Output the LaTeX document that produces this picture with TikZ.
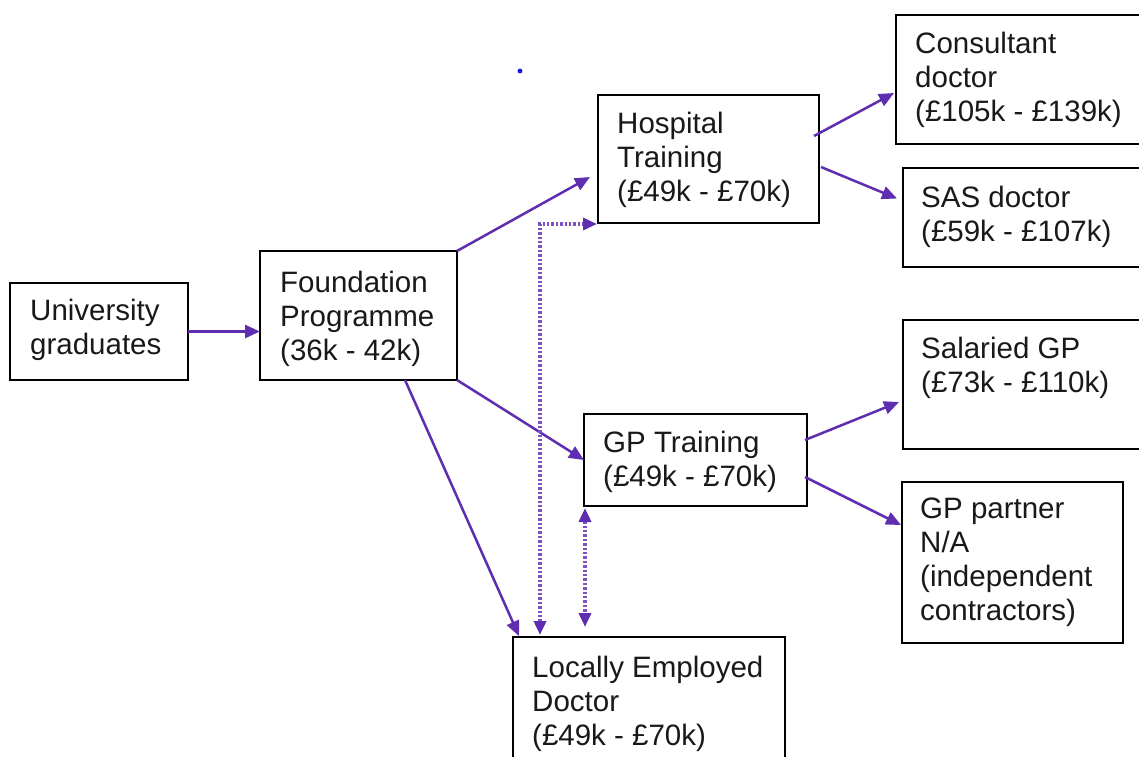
\documentclass[tikz,border=0pt]{standalone}
\usepackage{fontspec}
\setmainfont{Liberation Sans}
\usetikzlibrary{arrows.meta,calc}
\definecolor{arrowpurple}{RGB}{95,45,175}
\definecolor{dotpurple}{RGB}{125,80,200}
\definecolor{textgray}{RGB}{25,25,25}
\definecolor{dotblue}{RGB}{20,20,240}
\tikzset{
  box/.style={draw=black, line width=2.5pt, outer sep=0pt, inner sep=0pt, anchor=north west, fill=white},
  lbl/.style={anchor=north west, inner sep=0pt, align=left, text=textgray,
              font=\fontsize{29.5}{34}\selectfont},
  conn/.style={draw=arrowpurple, line width=2.5pt, -{Triangle[length=15pt,width=13pt]}},
  dotconn/.style={draw=dotpurple, line width=3.5pt, dash pattern=on 2.4pt off 2pt,
                  {Triangle[length=14pt,width=12pt,color=arrowpurple]}-{Triangle[length=14pt,width=12pt,color=arrowpurple]}}
}
\begin{document}
\begin{tikzpicture}[x=1pt,y=-1pt]
\useasboundingbox (0,0) rectangle (1139,756);
\fill[white] (0,0) rectangle (1139,756);
\clip (0,0) rectangle (1139,756);

% boxes
\node[box, minimum width=178pt, minimum height=97pt]  (ug)   at (10,283)  {};
\node[box, minimum width=197pt, minimum height=129pt] (fp)   at (260,251) {};
\node[box, minimum width=221pt, minimum height=128pt] (hosp) at (598,95)  {};
\node[box, minimum width=254pt, minimum height=129pt] (cons) at (896,15)  {};
\node[box, minimum width=247pt, minimum height=99pt]  (sas)  at (903,168) {};
\node[box, minimum width=247pt, minimum height=129pt] (sal)  at (903,320) {};
\node[box, minimum width=221pt, minimum height=161pt] (part) at (902,482) {};
\node[box, minimum width=223pt, minimum height=92pt]  (gpt)  at (584,414) {};
\node[box, minimum width=272pt, minimum height=133pt] (led)  at (513,637) {};

% labels
\node[lbl] (ugl)   at (30,296)  {\strut University\\graduates};
\node[lbl] (fpl)   at (280,268) {\strut Foundation\\Programme\\(36k - 42k)};
\node[lbl] (hospl) at (617,109) {\strut Hospital\\Training\\(£49k - £70k)};
\node[lbl] (consl) at (915,29)  {\strut Consultant\\doctor\\(£105k - £139k)};
\node[lbl] (sasl)  at (921,183) {\strut SAS doctor\\(£59k - £107k)};
\node[lbl] (sall)  at (921,334) {\strut Salaried GP\\(£73k - £110k)};
\node[lbl] (partl) at (920,494) {\strut GP partner\\N/A\\(independent\\contractors)};
\node[lbl] (gptl)  at (603,428) {\strut GP Training\\(£49k - £70k)};
\node[lbl] (ledl)  at (532,653) {\strut Locally Employed\\Doctor\\(£49k - £70k)};

% blue dot
\fill[dotblue] (520,71) circle (2.4pt);

% connectors
\draw[conn] (ug.east) -- (fp.west |- ug.east);
\draw[conn] (fp.north east) -- ($(hosp.west)+(-8,18)$);
\draw[conn] (fp.south east) -- (gpt.west);
\draw[conn] ($(fp.south)+(46.5,0)$) -- ($(led.north west)+(6,-1)$);
\draw[conn] ($(hosp.east)+(-5,-23)$) -- ($(cons.west)+(-2,13.5)$);
\draw[conn] ($(hosp.east)+(2,8)$) -- ($(sas.west)+(-6,-19)$);
\draw[conn] ($(gpt.east)+(-2,-20)$) -- ($(sal.west)+(-4,17.5)$);
\draw[conn] ($(gpt.east)+(-2,17)$) -- ($(part.west)+(-1,-37.5)$);

% dotted connectors
\draw[dotconn] ($(led.north west)+(27,-2)$) |- ($(hosp.south west)+(-1,1)$);
\draw[dotconn] ($(gpt.south west)+(1,2)$) -- ($(led.north west)+(72,-10)$);
\end{tikzpicture}
\end{document}
